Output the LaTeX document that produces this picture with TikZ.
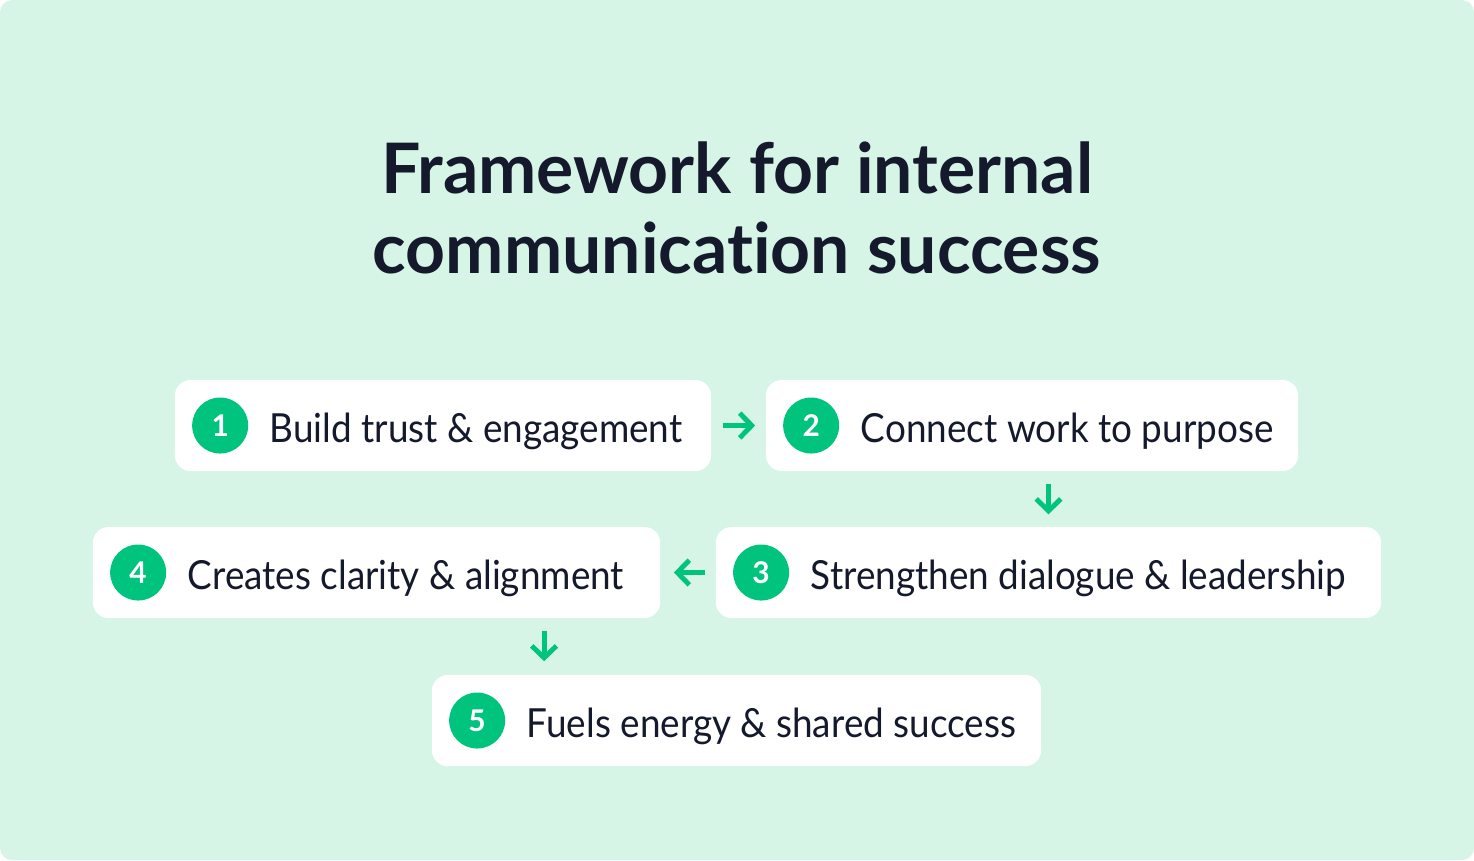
\documentclass[tikz,border=0pt]{standalone}
\usepackage{fontspec}
\setmainfont{Lato}[Ligatures=NoCommon]
\newfontfamily\stepfont{Lato}[FakeStretch=0.92,Ligatures=NoCommon]
\usetikzlibrary{arrows.meta}
\definecolor{bgmint}{HTML}{D6F5E6}
\definecolor{stepgreen}{HTML}{00C47E}
\definecolor{inkblue}{HTML}{141A2C}

\tikzset{
  stepbox/.style={fill=white,rounded corners=4.5pt,minimum height=0.91cm,inner sep=0pt},
  stepdot/.style={circle,fill=stepgreen,minimum size=0.56cm,inner sep=0pt,text=white,
    font=\fontsize{8.5pt}{8.5pt}\selectfont\bfseries},
  steptext/.style={anchor=base west,inner sep=0pt,text=inkblue,font=\stepfont\fontsize{11.4pt}{14pt}\selectfont},
  flow/.style={stepgreen,line width=1.4pt,-{Straight Barb[length=3.4pt,width=7pt]}}
}

\begin{document}
\begin{tikzpicture}[x=0.01cm,y=-0.01cm]
  \fill[white] (0,0) rectangle (1474,860);
  \fill[bgmint,rounded corners=3.5pt] (0,0) rectangle (1474,860);
  \useasboundingbox (0,0) rectangle (1474,860);

  \node[anchor=base,text=inkblue,font=\fontsize{19.8pt}{20pt}\selectfont\bfseries] (title1) at (737,193) {Framework for internal};
  \node[anchor=base,text=inkblue,font=\fontsize{19.8pt}{20pt}\selectfont\bfseries] (title2) at (737,273) {communication success};

  \foreach \n/\cx/\cy/\w/\t in {
      1/443/425.5/5.36/Build trust \& engagement,
      2/1032/425.5/5.32/Connect work to purpose,
      3/1048.5/572.5/6.65/Strengthen dialogue \& leadership,
      4/376.5/572.5/5.67/Creates clarity \& alignment,
      5/736.5/720.5/6.09/Fuels energy \& shared success} {
    \node[stepbox,minimum width=\w cm] (b\n) at (\cx,\cy) {};
    \node[stepdot] (d\n) at ([xshift=0.46cm]b\n.west) {\n};
    \node[steptext] (t\n) at ([xshift=0.49cm,yshift=-0.165cm]d\n.center) {\t};
  }

  \draw[flow,shorten <=0.11cm,shorten >=0.1cm] (b1.east) -- (b2.west);
  \draw[flow,shorten <=0.12cm,shorten >=0.12cm] (b3.north |- b2.south) -- (b3.north);
  \draw[flow,shorten <=0.1cm,shorten >=0.13cm] (b3.west) -- (b4.east);
  \draw[flow,shorten <=0.12cm,shorten >=0.13cm] ([xshift=1.675cm]b4.south) -- ([xshift=1.675cm]b4.south |- b5.north);
\end{tikzpicture}
\end{document}
